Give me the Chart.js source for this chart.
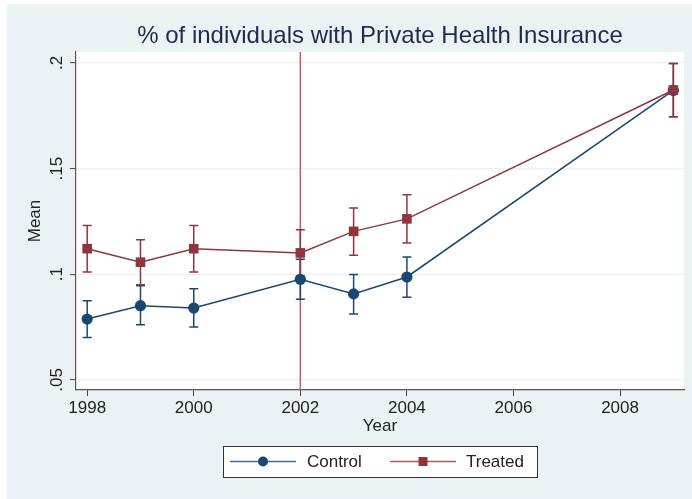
<!DOCTYPE html>
<html>
<head>
<meta charset="utf-8">
<script src="https://cdn.jsdelivr.net/npm/chart.js@4/dist/chart.umd.min.js"></script>
<style>
  html, body { margin: 0; padding: 0; background: #fff; overflow: hidden; }
  #wrap { width: 692px; height: 499px; }
  canvas { display: block; }
</style>
</head>
<body>
<div id="wrap"><canvas id="meanChart" width="692" height="499"></canvas></div>
<script>
// data
const years = [1998, 1999, 2000, 2002, 2003, 2004, 2009];
const control = [0.0788, 0.0851, 0.0840, 0.0976, 0.0907, 0.0987, 0.1870];
const controlLo = [0.0701, 0.0761, 0.0750, 0.0881, 0.0812, 0.0891, 0.1746];
const controlHi = [0.0875, 0.0946, 0.0931, 0.1071, 0.0999, 0.1081, 0.1998];
const treated = [0.1121, 0.1057, 0.1121, 0.1101, 0.1203, 0.1262, 0.1872];
const treatedLo = [0.1011, 0.0950, 0.1011, 0.0992, 0.1090, 0.1148, 0.1746];
const treatedHi = [0.1231, 0.1163, 0.1231, 0.1211, 0.1314, 0.1376, 0.1998];
const xTicks = [1998, 2000, 2002, 2004, 2006, 2008];
const yTicks = [0.05, 0.1, 0.15, 0.2];
const yTickLabels = ['.05', '.1', '.15', '.2'];
const treatYear = 2002;

const NAVY = '#1A476F';
const MAROON = '#90353B';
const FONT = '"Liberation Sans", Arial, sans-serif';

// background, reference line, error bars, rotated y labels, title, legend
const stataLook = {
    id: 'stataLook',
    beforeDraw(chart) {
        const ctx = chart.ctx;
        const a = chart.chartArea;
        ctx.save();
        ctx.fillStyle = '#EAF2F3';
        ctx.fillRect(7, 4, chart.width - 7, chart.height - 4);
        ctx.fillStyle = '#ffffff';
        ctx.fillRect(a.left, a.top, a.right - a.left, a.bottom - a.top);
        ctx.restore();
    },
    beforeDatasetsDraw(chart) {
        const ctx = chart.ctx;
        const x = chart.scales.x;
        const y = chart.scales.y;
        const a = chart.chartArea;
        ctx.save();
        // vertical line at treatment year
        ctx.strokeStyle = '#CC5866';
        ctx.lineWidth = 1.5;
        const vx = x.getPixelForValue(treatYear);
        ctx.beginPath();
        ctx.moveTo(vx, a.top);
        ctx.lineTo(vx, a.bottom);
        ctx.stroke();

        // error bars
        const bars = [[controlLo, controlHi, NAVY], [treatedLo, treatedHi, MAROON]];
        bars.forEach(([lo, hi, col]) => {
            ctx.strokeStyle = col;
            ctx.lineWidth = 1.5;
            years.forEach((yr, i) => {
                const px = x.getPixelForValue(yr);
                const p1 = y.getPixelForValue(lo[i]);
                const p2 = y.getPixelForValue(hi[i]);
                ctx.beginPath();
                ctx.moveTo(px, p1); ctx.lineTo(px, p2);
                ctx.moveTo(px - 4.5, p1); ctx.lineTo(px + 4.5, p1);
                ctx.moveTo(px - 4.5, p2); ctx.lineTo(px + 4.5, p2);
                ctx.stroke();
            });
        });
        ctx.restore();
    },
    afterDraw(chart) {
        const ctx = chart.ctx;
        const y = chart.scales.y;
        const a = chart.chartArea;
        ctx.save();

        // y tick labels, rotated like Stata
        ctx.fillStyle = '#222';
        ctx.font = '17px ' + FONT;
        ctx.textAlign = 'center';
        ctx.textBaseline = 'middle';
        yTicks.forEach((v, i) => {
            ctx.save();
            ctx.translate(57, y.getPixelForValue(v));
            ctx.rotate(-Math.PI / 2);
            ctx.fillText(yTickLabels[i], 0, 0);
            ctx.restore();
        });

        // title
        ctx.fillStyle = '#1E2B4A';
        ctx.font = '24px ' + FONT;
        ctx.fillText('% of individuals with Private Health Insurance', (a.left + a.right) / 2, 36);

        // legend box
        const lx = 223, ly = 446, lw = 314, lh = 31;
        ctx.fillStyle = '#ffffff';
        ctx.fillRect(lx, ly, lw, lh);
        ctx.strokeStyle = '#333';
        ctx.lineWidth = 1;
        ctx.strokeRect(lx + 0.5, ly + 0.5, lw, lh);
        const cy = ly + lh / 2;
        const items = [
            { x0: 230, x1: 296, text: 'Control', tx: 307, col: NAVY, shape: 'circle' },
            { x0: 390, x1: 456, text: 'Treated', tx: 466, col: MAROON, shape: 'square' }
        ];
        items.forEach(it => {
            ctx.strokeStyle = it.col;
            ctx.globalAlpha = 0.8;
            ctx.lineWidth = 1.5;
            ctx.beginPath();
            ctx.moveTo(it.x0, cy); ctx.lineTo(it.x1, cy);
            ctx.stroke();
            ctx.globalAlpha = 1;
            ctx.fillStyle = it.col;
            const mx = (it.x0 + it.x1) / 2;
            if (it.shape === 'circle') {
                ctx.beginPath();
                ctx.arc(mx, cy, 5, 0, Math.PI * 2);
                ctx.fill();
            } else {
                ctx.fillRect(mx - 4.5, cy - 4.5, 9, 9);
            }
            ctx.fillStyle = '#222';
            ctx.font = '17px ' + FONT;
            ctx.textAlign = 'left';
            ctx.fillText(it.text, it.tx, cy + 1);
        });
        ctx.restore();
    }
};

const ctx = document.getElementById('meanChart').getContext('2d');
new Chart(ctx, {
    type: 'line',
    data: {
        datasets: [
            {
                label: 'Control',
                data: years.map((yr, i) => ({ x: yr, y: control[i] })),
                borderColor: NAVY,
                backgroundColor: NAVY,
                borderWidth: 1.5,
                pointStyle: 'circle',
                pointRadius: 5.6,
                pointHoverRadius: 5.6,
                pointBorderWidth: 0,
                fill: false,
                tension: 0,
                order: 2
            },
            {
                label: 'Treated',
                data: years.map((yr, i) => ({ x: yr, y: treated[i] })),
                borderColor: MAROON,
                backgroundColor: MAROON,
                borderWidth: 1.5,
                pointStyle: 'rect',
                pointRadius: 6.8,
                pointHoverRadius: 6.8,
                pointBorderWidth: 0,
                fill: false,
                tension: 0,
                order: 1
            }
        ]
    },
    options: {
        responsive: false,
        animation: false,
        events: [],
        layout: { padding: { left: 0, top: 52, right: 8, bottom: 62 } },
        plugins: {
            legend: { display: false },
            title: { display: false },
            tooltip: { enabled: false }
        },
        scales: {
            x: {
                type: 'linear',
                min: 1997.79,
                max: 2009.2,
                afterBuildTicks: (scale) => { scale.ticks = xTicks.map(v => ({ value: v })); },
                afterFit: (scale) => { scale.height = 47; },
                grid: { drawOnChartArea: false, drawTicks: true, tickLength: 6, tickColor: '#444', tickWidth: 1 },
                border: { color: '#555', width: 1.2 },
                ticks: {
                    color: '#222',
                    font: { family: FONT, size: 17 },
                    padding: 2,
                    maxRotation: 0,
                    autoSkip: false,
                    callback: (v) => String(v)
                },
                title: {
                    display: true,
                    text: 'Year',
                    color: '#222',
                    font: { family: FONT, size: 17 },
                    padding: { top: 0, bottom: 0 }
                }
            },
            y: {
                type: 'linear',
                min: 0.0452,
                max: 0.2052,
                afterBuildTicks: (scale) => { scale.ticks = yTicks.map(v => ({ value: v })); },
                afterFit: (scale) => { scale.width = 76; },
                grid: { color: '#EAF2F3', lineWidth: 1.2, drawTicks: true, tickLength: 6, tickColor: '#444', tickWidth: 1 },
                border: { color: '#555', width: 1.2 },
                ticks: { display: false },
                title: {
                    display: true,
                    text: 'Mean',
                    color: '#222',
                    font: { family: FONT, size: 17 },
                    padding: { top: 25, bottom: 0 }
                }
            }
        }
    },
    plugins: [stataLook]
});
</script>
</body>
</html>
